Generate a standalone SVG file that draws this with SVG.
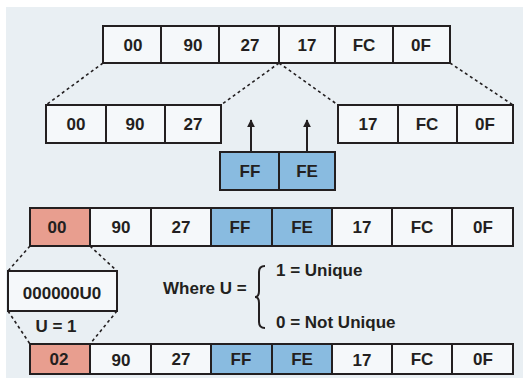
<svg xmlns="http://www.w3.org/2000/svg" width="523" height="387" viewBox="0 0 523 387">
  <defs>
    <style>
      .bg { fill: #e9eff3; }
      .cell { fill: #f5f8fa; stroke: #231f20; stroke-width: 2; }
      .blue { fill: #89bbe0; stroke: #231f20; stroke-width: 2; }
      .red { fill: #e89e8f; stroke: #231f20; stroke-width: 2; }
      .dots { fill: none; stroke: #231f20; stroke-width: 1.6; stroke-dasharray: 3 3; }
      .line { fill: none; stroke: #231f20; stroke-width: 2; }
      text { font-family: "Liberation Sans Narrow", "Liberation Sans", Arial, sans-serif; font-weight: bold; font-size: 17px; fill: #231f20; }
      .c { text-anchor: middle; }
    </style>
    <marker id="arrow" viewBox="0 0 10 10" refX="9" refY="5" markerWidth="4" markerHeight="4" orient="auto">
      <path d="M0,0 L10,5 L0,10 z" fill="#231f20"/>
    </marker>
  </defs>

  <rect class="bg" x="6" y="7" width="517" height="371"/>

  <!-- original 6-byte address -->
  <g id="row-original">
    <rect class="cell" x="103" y="26" width="58" height="37"/>
    <rect class="cell" x="161" y="26" width="58" height="37"/>
    <rect class="cell" x="219" y="26" width="60" height="37"/>
    <rect class="cell" x="279" y="26" width="56" height="37"/>
    <rect class="cell" x="335" y="26" width="58" height="37"/>
    <rect class="cell" x="393" y="26" width="57" height="37"/>
    <text class="c" x="133" y="51">00</text>
    <text class="c" x="193" y="51">90</text>
    <text class="c" x="250" y="51">27</text>
    <text class="c" x="307" y="51">17</text>
    <text class="c" x="364" y="51">FC</text>
    <text class="c" x="421" y="51">0F</text>
  </g>

  <!-- split halves -->
  <g id="row-split-left">
    <rect class="cell" x="46" y="105" width="60" height="38"/>
    <rect class="cell" x="106" y="105" width="59" height="38"/>
    <rect class="cell" x="165" y="105" width="56" height="38"/>
    <text class="c" x="76" y="130">00</text>
    <text class="c" x="135" y="130">90</text>
    <text class="c" x="193" y="130">27</text>
  </g>
  <g id="row-split-right">
    <rect class="cell" x="338" y="105" width="60" height="38"/>
    <rect class="cell" x="398" y="105" width="59" height="38"/>
    <rect class="cell" x="457" y="105" width="56" height="38"/>
    <text class="c" x="368" y="130">17</text>
    <text class="c" x="427" y="130">FC</text>
    <text class="c" x="485" y="130">0F</text>
  </g>

  <!-- inserted bytes -->
  <g id="inserted">
    <rect class="blue" x="220" y="152" width="59" height="38"/>
    <rect class="blue" x="279" y="152" width="56" height="38"/>
    <text class="c" x="250" y="177">FF</text>
    <text class="c" x="307" y="177">FE</text>
  </g>

  <!-- 8-byte identifier, before flag -->
  <g id="row-eui">
    <rect class="red" x="30" y="208" width="60" height="38"/>
    <rect class="cell" x="90" y="208" width="61" height="38"/>
    <rect class="cell" x="151" y="208" width="60" height="38"/>
    <rect class="blue" x="211" y="208" width="61" height="38"/>
    <rect class="blue" x="272" y="208" width="60" height="38"/>
    <rect class="cell" x="332" y="208" width="60" height="38"/>
    <rect class="cell" x="392" y="208" width="60" height="38"/>
    <rect class="cell" x="452" y="208" width="61" height="38"/>
    <text class="c" x="57" y="233">00</text>
    <text class="c" x="121" y="233">90</text>
    <text class="c" x="181" y="233">27</text>
    <text class="c" x="240" y="233">FF</text>
    <text class="c" x="302" y="233">FE</text>
    <text class="c" x="362" y="233">17</text>
    <text class="c" x="422" y="233">FC</text>
    <text class="c" x="483" y="233">0F</text>
  </g>

  <!-- first-byte bit pattern -->
  <g id="bits">
    <rect class="cell" x="8" y="271" width="109" height="40"/>
    <text class="c" x="62" y="299">000000U0</text>
    <text class="c" x="56" y="332">U = 1</text>
  </g>

  <!-- legend -->
  <g id="legend">
    <text x="163" y="294">Where U =</text>
    <path class="line" d="M265,266 Q259,266 259,272 L259,291 Q259,297 255,297 Q259,297 259,303 L259,322 Q259,328 265,328" stroke-width="1.8"/>
    <text x="276" y="276">1 = Unique</text>
    <text x="276" y="328">0 = Not Unique</text>
  </g>

  <!-- 8-byte identifier, final -->
  <g id="row-final">
    <rect class="red" x="30" y="344" width="60" height="30"/>
    <rect class="cell" x="90" y="344" width="61" height="30"/>
    <rect class="cell" x="151" y="344" width="60" height="30"/>
    <rect class="blue" x="211" y="344" width="61" height="30"/>
    <rect class="blue" x="272" y="344" width="60" height="30"/>
    <rect class="cell" x="332" y="344" width="60" height="30"/>
    <rect class="cell" x="392" y="344" width="60" height="30"/>
    <rect class="cell" x="452" y="344" width="61" height="30"/>
    <text class="c" x="59" y="365">02</text>
    <text class="c" x="121" y="366">90</text>
    <text class="c" x="181" y="365">27</text>
    <text class="c" x="241" y="365">FF</text>
    <text class="c" x="302" y="365">FE</text>
    <text class="c" x="362" y="366">17</text>
    <text class="c" x="422" y="365">FC</text>
    <text class="c" x="483" y="365">0F</text>
  </g>

  <g id="connectors">
    <path class="dots" d="M103,63 L46,105"/>
    <path class="dots" d="M279,63 L221,105"/>
    <path class="dots" d="M279,63 L338,105"/>
    <path class="dots" d="M450,63 L513,105"/>
    <path class="line" d="M251,152 L251,120" marker-end="url(#arrow)"/>
    <path class="line" d="M307,152 L307,120" marker-end="url(#arrow)"/>
    <path class="dots" d="M30,246 L8,271"/>
    <path class="dots" d="M90,246 L117,271"/>
    <path class="dots" d="M8,311 L30,344"/>
    <path class="dots" d="M117,311 L90,344"/>
  </g>
</svg>
